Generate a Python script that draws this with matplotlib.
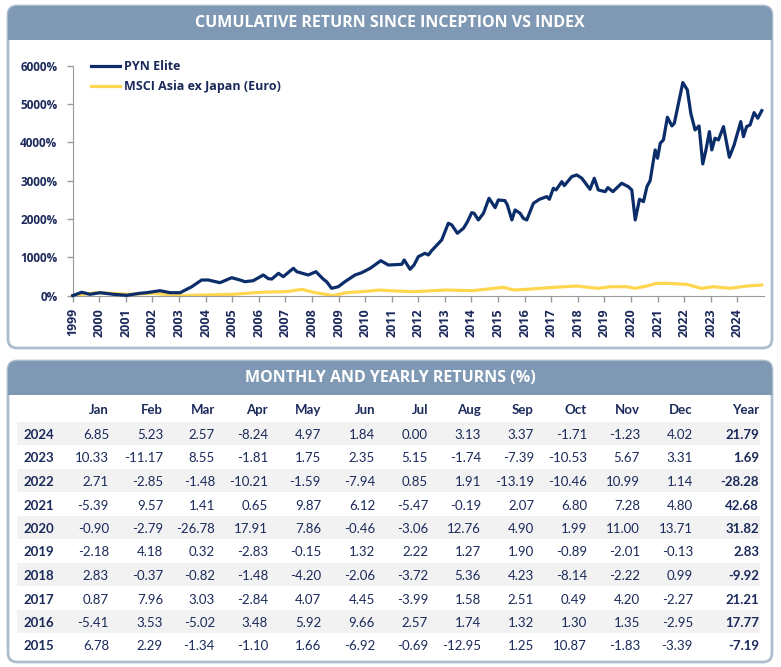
import matplotlib
matplotlib.use("Agg")
import matplotlib.pyplot as plt
from matplotlib.patches import FancyBboxPatch, Rectangle

# cumulative return (fractional year, %)
pyn_dates = [1999.0, 1999.34, 1999.65, 2000.03, 2000.53, 2001.03, 2001.53, 2001.78, 2002.28,
             2002.66, 2003.04, 2003.48, 2003.85, 2004.1, 2004.54, 2004.98, 2005.29, 2005.48,
             2005.79, 2006.17, 2006.36, 2006.49, 2006.74, 2006.92, 2007.3, 2007.43, 2007.86,
             2008.15, 2008.43, 2008.55, 2008.74, 2008.99, 2009.24, 2009.62, 2009.87, 2010.19,
             2010.59, 2010.87, 2010.94, 2011.38, 2011.47, 2011.69, 2011.84, 2012.0, 2012.25,
             2012.38, 2012.5, 2012.88, 2013.13, 2013.26, 2013.47, 2013.7, 2013.85, 2014.01,
             2014.1, 2014.26, 2014.45, 2014.66, 2014.89, 2015.01, 2015.26, 2015.35, 2015.52,
             2015.64, 2015.83, 2015.95, 2016.08, 2016.33, 2016.56, 2016.83, 2016.93, 2017.08,
             2017.18, 2017.4, 2017.49, 2017.77, 2017.96, 2018.15, 2018.46, 2018.62, 2018.77,
             2019.03, 2019.13, 2019.32, 2019.65, 2019.9, 2020.03, 2020.16, 2020.32, 2020.47,
             2020.6, 2020.72, 2020.91, 2021.0, 2021.1, 2021.22, 2021.37, 2021.54, 2021.63,
             2021.95, 2022.12, 2022.25, 2022.41, 2022.56, 2022.7, 2022.82, 2022.95, 2023.04,
             2023.16, 2023.29, 2023.48, 2023.7, 2023.88, 2024.13, 2024.23, 2024.35, 2024.48,
             2024.63, 2024.77, 2024.92]
pyn_values = [0, 86, 34, 76, 34, 8, 60, 76, 128,
              76, 76, 232, 407, 407, 337, 467, 407, 363,
              389, 538, 441, 433, 582, 494, 713, 624, 538,
              624, 426, 363, 190, 232, 363, 538, 598, 713,
              911, 799, 800, 817, 930, 687, 800, 1016, 1104,
              1060, 1172, 1452, 1888, 1843, 1627, 1757, 1930, 2165,
              2148, 1974, 2148, 2540, 2295, 2496, 2478, 2365, 1974,
              2235, 2148, 2018, 1974, 2409, 2514, 2583, 2514, 2801,
              2757, 2974, 2870, 3104, 3149, 3063, 2775, 3063, 2757,
              2713, 2817, 2713, 2932, 2843, 2757, 1974, 2514, 2452,
              2843, 3000, 3802, 3585, 3976, 4063, 4655, 4428, 4498,
              5559, 5368, 4760, 4324, 4428, 3436, 3802, 4280, 3802,
              4107, 4063, 4410, 3611, 3932, 4541, 4149, 4410, 4454,
              4776, 4629, 4828]

msci_dates = [1999.0, 1999.9, 2000.4, 2001.15, 2002.03, 2003.0, 2004.05, 2005.05, 2006.05,
              2007.05, 2007.62, 2008.05, 2008.8, 2009.3, 2009.92, 2010.56, 2010.92, 2011.8,
              2013.05, 2014.05, 2015.2, 2015.6, 2016.1, 2017.1, 2017.96, 2018.75, 2019.25,
              2019.85, 2020.15, 2020.6, 2020.95, 2021.33, 2022.08, 2022.65, 2023.1, 2023.72,
              2024.35, 2024.92]
msci_values = [0, 76, 60, 34, 60, 0, 17, 34, 86,
               104, 164, 86, 0, 76, 104, 146, 128, 102,
               146, 128, 216, 146, 164, 216, 250, 190, 232,
               232, 190, 250, 320, 320, 294, 190, 232, 190,
               250, 277]

years_axis = list(range(1999, 2025))
y_ticks = [0, 1000, 2000, 3000, 4000, 5000, 6000]

# monthly / yearly returns table
months = ["Jan", "Feb", "Mar", "Apr", "May", "Jun", "Jul", "Aug", "Sep", "Oct", "Nov", "Dec", "Year"]
table_years = [2024, 2023, 2022, 2021, 2020, 2019, 2018, 2017, 2016, 2015]
monthly = [
    ["6.85", "5.23", "2.57", "-8.24", "4.97", "1.84", "0.00", "3.13", "3.37", "-1.71", "-1.23", "4.02"],
    ["10.33", "-11.17", "8.55", "-1.81", "1.75", "2.35", "5.15", "-1.74", "-7.39", "-10.53", "5.67", "3.31"],
    ["2.71", "-2.85", "-1.48", "-10.21", "-1.59", "-7.94", "0.85", "1.91", "-13.19", "-10.46", "10.99", "1.14"],
    ["-5.39", "9.57", "1.41", "0.65", "9.87", "6.12", "-5.47", "-0.19", "2.07", "6.80", "7.28", "4.80"],
    ["-0.90", "-2.79", "-26.78", "17.91", "7.86", "-0.46", "-3.06", "12.76", "4.90", "1.99", "11.00", "13.71"],
    ["-2.18", "4.18", "0.32", "-2.83", "-0.15", "1.32", "2.22", "1.27", "1.90", "-0.89", "-2.01", "-0.13"],
    ["2.83", "-0.37", "-0.82", "-1.48", "-4.20", "-2.06", "-3.72", "5.36", "4.23", "-8.14", "-2.22", "0.99"],
    ["0.87", "7.96", "3.03", "-2.84", "4.07", "4.45", "-3.99", "1.58", "2.51", "0.49", "4.20", "-2.27"],
    ["-5.41", "3.53", "-5.02", "3.48", "5.92", "9.66", "2.57", "1.74", "1.32", "1.30", "1.35", "-2.95"],
    ["6.78", "2.29", "-1.34", "-1.10", "1.66", "-6.92", "-0.69", "-12.95", "1.25", "10.87", "-1.83", "-3.39"],
]
yearly = ["21.79", "1.69", "-28.28", "42.68", "31.82", "2.83", "-9.92", "21.21", "17.77", "-7.19"]

NAVY = "#0b2d69"
TEXT = "#1b2a5a"
YELLOW = "#ffd64f"
BAND = "#7f99b5"
EDGE = "#aebdcd"
HEAD_FONT = ["Open Sans", "DejaVu Sans"]

W, H = 781, 667
plt.rcParams["font.family"] = ["Lato", "DejaVu Sans"]
fig = plt.figure(figsize=(W / 100, H / 100), dpi=100)

bg = fig.add_axes([0, 0, 1, 1])
bg.set_xlim(0, W)
bg.set_ylim(H, 0)
bg.axis("off")


def panel(top, bottom, title):
    bg.add_patch(FancyBboxPatch((8, top), 764, bottom - top, boxstyle="round,pad=0,rounding_size=9",
                                facecolor="white", edgecolor=EDGE, lw=2))
    bg.add_patch(FancyBboxPatch((8, top), 764, 34, boxstyle="round,pad=0,rounding_size=9",
                                facecolor=BAND, edgecolor="none"))
    bg.add_patch(Rectangle((8, top + 20), 764, 14, facecolor=BAND, edgecolor="none"))
    bg.text(390, top + 17, title, color="white", fontsize=11.5, fontweight="bold",
            ha="center", va="center", family=HEAD_FONT)


panel(6, 348, "CUMULATIVE RETURN SINCE INCEPTION VS INDEX")
panel(361, 662, "MONTHLY AND YEARLY RETURNS (%)")

# chart
ax = fig.add_axes([72.7 / W, 1 - 295.6 / H, 691.2 / W, 229.9 / H])
ax.plot(pyn_dates, pyn_values, color=NAVY, lw=2.3, label="PYN Elite", clip_on=False, zorder=3)
ax.plot(msci_dates, msci_values, color=YELLOW, lw=2.3, label="MSCI Asia ex Japan (Euro)",
        clip_on=False, zorder=2)
ax.set_xlim(1999, 2025)
ax.set_ylim(0, 6000)
ax.set_xticks(years_axis)
ax.set_xticklabels([str(y) for y in years_axis], rotation=90, fontsize=9,
                   fontweight="bold", color=TEXT, family=HEAD_FONT)
ax.set_yticks(y_ticks)
ax.set_yticklabels([f"{v}%" for v in y_ticks], fontsize=8.5, fontweight="bold", color=TEXT,
                   family=HEAD_FONT)
ax.tick_params(axis="both", colors="#9a9a9a", length=4, width=1)
ax.tick_params(axis="y", pad=7, labelcolor=TEXT)
ax.tick_params(axis="x", pad=5, labelcolor=TEXT)
for s in ["top", "right"]:
    ax.spines[s].set_visible(False)
for s in ["left", "bottom"]:
    ax.spines[s].set_color("#9a9a9a")
ax.patch.set_alpha(0)
leg = ax.legend(loc="upper left", bbox_to_anchor=(86, 55), bbox_transform=bg.transData,
                frameon=False, handlelength=2.3, handletextpad=0.3, labelspacing=0.55,
                prop={"weight": "bold", "size": 9, "family": HEAD_FONT}, borderaxespad=0)
for t in leg.get_texts():
    t.set_color(TEXT)

# table
col_right = [109, 163, 215, 268, 321, 375, 428, 481, 534, 587, 640, 693, 759]
header_y = 410.5
row_y0 = 435
row_step = 23.5
for i, (yr, vals, tot) in enumerate(zip(table_years, monthly, yearly)):
    y = row_y0 + i * row_step
    if i % 2 == 0:
        bg.add_patch(Rectangle((17, y - 13.3), 743, row_step, facecolor="#f2f2f2", edgecolor="none"))
    bg.text(23, y, str(yr), color=TEXT, fontsize=9.5, fontweight="bold", ha="left", va="center")
    for x, v in zip(col_right, vals):
        bg.text(x, y, v, color=TEXT, fontsize=9.5, ha="right", va="center")
    bg.text(col_right[-1], y, tot, color=TEXT, fontsize=9.5, fontweight="bold", ha="right", va="center")
for x, m in zip(col_right, months):
    bg.text(x, header_y, m, color=TEXT, fontsize=9.5, fontweight="bold", ha="right", va="center")

fig.savefig("out.png", dpi=100)
